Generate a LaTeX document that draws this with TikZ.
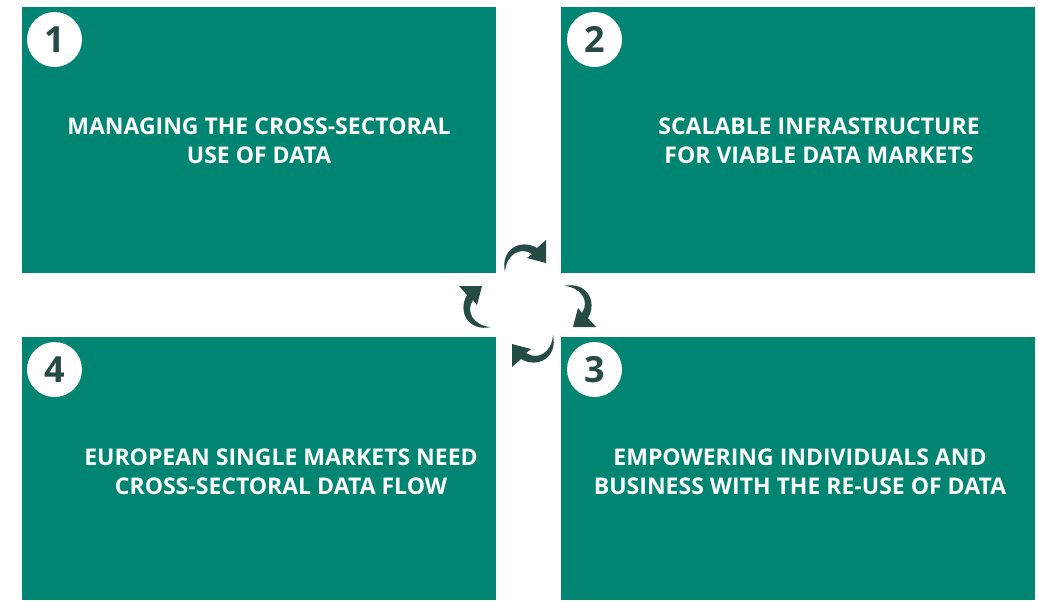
\documentclass[tikz,border=0pt]{standalone}
\usepackage{fontspec}
\setmainfont{Open Sans}
\definecolor{teal}{RGB}{0,133,114}
\definecolor{arrowc}{RGB}{38,75,69}
\begin{document}
\begin{tikzpicture}[x=1pt,y=-1pt,
  panel/.style={fill=teal,draw=none},
  numc/.style={circle,fill=white,minimum size=55pt,inner sep=0pt,text=arrowc,font=\fontsize{36}{36}\selectfont\bfseries},
  ptext/.style={text=white,align=center,font=\fontsize{23}{29}\selectfont\bfseries,inner sep=0pt},
  pics/cyc/.style={code={
    \fill[arrowc] (-21,16) .. controls (-26,-6) and (-6,-18) .. (11,-8)
      -- (20,-16) -- (20,7) -- (1,2) -- (6,-2)
      .. controls (-6,-10) and (-20,-1) .. (-21,16) -- cycle;
  }}]
\useasboundingbox (0,0) rectangle (1038,600);
\fill[white] (0,0) rectangle (1038,600);
\fill[panel] (22,7) rectangle (496,273);
\fill[panel] (561,7) rectangle (1035,273);
\fill[panel] (22,337) rectangle (496,600);
\fill[panel] (561,337) rectangle (1035,600);
\node[numc] (n1) at (54.5,39.5) {1};
\node[numc] (n2) at (594.5,39.5) {2};
\node[numc] (n4) at (54.5,369.5) {4};
\node[numc] (n3) at (594.5,369.5) {3};
\node[ptext] (t1) at (259,140.5) {MANAGING THE CROSS-SECTORAL\\USE OF DATA};
\node[ptext] (t2) at (819,140.5) {SCALABLE INFRASTRUCTURE\\FOR VIABLE DATA MARKETS};
\node[ptext] (t4) at (281,472) {EUROPEAN SINGLE MARKETS NEED\\CROSS-SECTORAL DATA FLOW};
\node[ptext] (t3) at (800,472) {EMPOWERING INDIVIDUALS AND\\BUSINESS WITH THE RE-USE OF DATA};
\pic at (526,256) {cyc};
\pic[rotate=-90] at (580,307) {cyc};
\pic[rotate=180] at (532,351) {cyc};
\pic[rotate=90] at (475,306) {cyc};
\end{tikzpicture}
\end{document}
